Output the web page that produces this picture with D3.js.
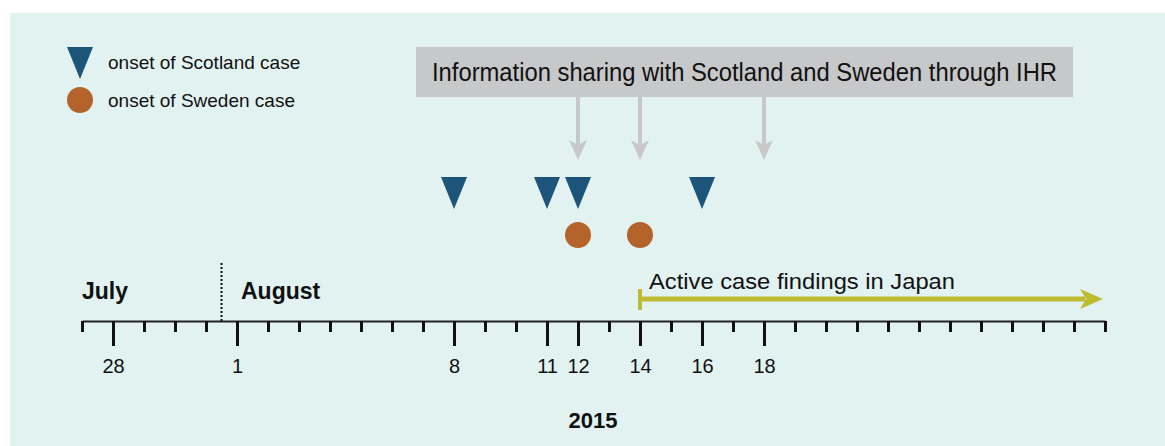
<!DOCTYPE html>
<html>
<head>
<meta charset="utf-8">
<script src="https://cdn.jsdelivr.net/npm/d3@7"></script>
<style>
  body { margin: 0; background: #fff; }
  text { font-family: "Liberation Sans", Arial, sans-serif; fill: #111; }
</style>
</head>
<body>
<div id="timeline"></div>
<script>
// onset dates and events
var scotlandOnset = ["2015-08-08", "2015-08-11", "2015-08-12", "2015-08-16"];
var swedenOnset = ["2015-08-12", "2015-08-14"];
var ihrSharing = ["2015-08-12", "2015-08-14", "2015-08-18"];
var activeFinding = ["2015-08-14", "2015-08-29"];
var axisRange = ["2015-07-27", "2015-08-29"];
var labeledDays = ["2015-07-28", "2015-08-01", "2015-08-08", "2015-08-11", "2015-08-12", "2015-08-14", "2015-08-16", "2015-08-18"];
var monthStart = "2015-08-01";

var parse = d3.timeParse("%Y-%m-%d");
var width = 1165, height = 446;
var axisY = 321;

var svg = d3.select("#timeline").append("svg")
    .attr("width", width)
    .attr("height", height);

svg.append("rect")
    .attr("x", 10).attr("y", 13)
    .attr("width", width - 10).attr("height", height - 13)
    .attr("fill", "#e2f2f1");

var x = d3.scaleTime()
    .domain(axisRange.map(parse))
    .range([82, 1105]);

// minor (daily) ticks
var minorAxis = d3.axisBottom(x)
    .ticks(d3.timeDay.every(1))
    .tickSize(11)
    .tickSizeOuter(0)
    .tickFormat("");

var gMinor = svg.append("g")
    .attr("transform", "translate(0," + axisY + ")")
    .call(minorAxis);
gMinor.select(".domain").attr("stroke", "#222").attr("stroke-width", 2);
gMinor.selectAll(".tick line").attr("stroke", "#111").attr("stroke-width", 3);

// labeled days
var majorAxis = d3.axisBottom(x)
    .tickValues(labeledDays.map(parse))
    .tickSize(25)
    .tickPadding(13)
    .tickFormat(d3.timeFormat("%-d"));

var gMajor = svg.append("g")
    .attr("transform", "translate(0," + axisY + ")")
    .call(majorAxis);
gMajor.select(".domain").remove();
gMajor.selectAll(".tick line").attr("stroke", "#111").attr("stroke-width", 3);
gMajor.selectAll(".tick text")
    .attr("font-size", 20)
    .attr("font-family", "Liberation Sans, Arial, sans-serif")
    .attr("fill", "#111");

// month divider
var divX = x(parse(monthStart)) - (x(parse(monthStart)) - x(d3.timeDay.offset(parse(monthStart), -1))) / 2;
svg.append("line")
    .attr("x1", divX).attr("x2", divX)
    .attr("y1", 263).attr("y2", axisY)
    .attr("stroke", "#111")
    .attr("stroke-width", 2)
    .attr("stroke-dasharray", "2,2");

svg.append("text").attr("x", 82).attr("y", 299)
    .attr("font-size", 23).attr("font-weight", "bold").text("July");
svg.append("text").attr("x", 241).attr("y", 299)
    .attr("font-size", 23).attr("font-weight", "bold").text("August");

svg.append("text").attr("x", 593).attr("y", 428)
    .attr("text-anchor", "middle")
    .attr("font-size", 22).attr("font-weight", "bold").text("2015");

// onset markers
function downTriangle(cx, cy, w, h) {
  return "M" + (cx - w / 2) + "," + (cy - h / 2) + "L" + (cx + w / 2) + "," + (cy - h / 2) + "L" + cx + "," + (cy + h / 2) + "Z";
}

svg.selectAll(".scot")
    .data(scotlandOnset)
    .enter().append("path")
    .attr("class", "scot")
    .attr("d", d => downTriangle(x(parse(d)), 193, 26, 32))
    .attr("fill", "#1d557a");

svg.selectAll(".swe")
    .data(swedenOnset)
    .enter().append("circle")
    .attr("class", "swe")
    .attr("cx", d => x(parse(d)))
    .attr("cy", 235)
    .attr("r", 13)
    .attr("fill", "#b4632a");

// IHR information sharing
svg.append("rect")
    .attr("x", 416).attr("y", 47)
    .attr("width", 657).attr("height", 50)
    .attr("fill", "#c7c8c9");
svg.append("text")
    .attr("x", 432).attr("y", 81)
    .attr("font-size", 25)
    .attr("textLength", 625)
    .attr("lengthAdjust", "spacingAndGlyphs")
    .text("Information sharing with Scotland and Sweden through IHR");

var ihr = svg.selectAll(".ihr")
    .data(ihrSharing)
    .enter().append("g")
    .attr("class", "ihr")
    .attr("transform", d => "translate(" + x(parse(d)) + ",0)");
ihr.append("line")
    .attr("x1", 0).attr("x2", 0)
    .attr("y1", 97).attr("y2", 145)
    .attr("stroke", "#c8c8c8")
    .attr("stroke-width", 4);
ihr.append("path")
    .attr("d", "M-9,140L0,145L9,140L0,160Z")
    .attr("fill", "#c8c8c8");

// active case finding
var afStart = x(parse(activeFinding[0]));
var afEnd = x(parse(activeFinding[1])) - 2;
svg.append("line")
    .attr("x1", afStart).attr("x2", afEnd - 18)
    .attr("y1", 299).attr("y2", 299)
    .attr("stroke", "#bfbb30")
    .attr("stroke-width", 5);
svg.append("line")
    .attr("x1", afStart).attr("x2", afStart)
    .attr("y1", 289).attr("y2", 310)
    .attr("stroke", "#bfbb30")
    .attr("stroke-width", 4);
svg.append("path")
    .attr("d", "M" + (afEnd - 23) + ",289L" + afEnd + ",299L" + (afEnd - 23) + ",309L" + (afEnd - 17) + ",299Z")
    .attr("fill", "#bfbb30");
svg.append("text")
    .attr("x", 649).attr("y", 289)
    .attr("font-size", 22)
    .attr("textLength", 306)
    .attr("lengthAdjust", "spacingAndGlyphs")
    .text("Active case findings in Japan");

// legend
svg.append("path")
    .attr("d", downTriangle(80, 63, 26, 32))
    .attr("fill", "#1d557a");
svg.append("text").attr("x", 108).attr("y", 69)
    .attr("font-size", 19).text("onset of Scotland case");
svg.append("circle")
    .attr("cx", 80).attr("cy", 100).attr("r", 13)
    .attr("fill", "#b4632a");
svg.append("text").attr("x", 108).attr("y", 107)
    .attr("font-size", 19).text("onset of Sweden case");
</script>
</body>
</html>
